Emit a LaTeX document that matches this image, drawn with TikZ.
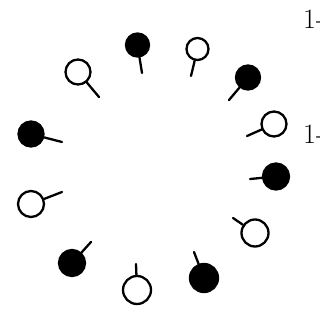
\documentclass[tikz,border=0pt]{standalone}
\usetikzlibrary{positioning}

\begin{document}
\begin{tikzpicture}[
	x=1pt, y=-1pt,
	head/.style={circle, draw, line width=2.3pt, inner sep=0pt, minimum size=25pt},
	full/.style={head, fill=black},
	hollow/.style={head, fill=white},
	stick/.style={line width=2.3pt, line cap=round},
	tag/.style={font=\fontsize{28}{30}\selectfont, anchor=base west, inner sep=0pt}
]
\useasboundingbox (0,0) rectangle (320,325);
\clip (0,0) rectangle (320,325);

\node[full, minimum size=23pt] (h1) at (137.5,45) {};
\node[hollow, minimum size=22pt] (h2) at (197.5,49) {};
\node[full, minimum size=24pt] (h3) at (248,77.5) {};
\node[hollow, minimum size=25pt] (h4) at (274,124) {};
\node[full, minimum size=26pt] (h5) at (276,176.5) {};
\node[hollow, minimum size=27pt] (h6) at (255,233) {};
\node[full, minimum size=28pt] (h7) at (204,278) {};
\node[hollow, minimum size=28pt] (h8) at (137,290) {};
\node[full, minimum size=26pt] (h9) at (72,263) {};
\node[hollow, minimum size=26pt] (h10) at (31,204) {};
\node[full, minimum size=25pt] (h11) at (31,134) {};
\node[hollow, minimum size=25pt] (h12) at (78,72) {};

\coordinate (s1) at (142,73);
\coordinate (s2) at (191,76);
\coordinate (s3) at (229,100);
\coordinate (s4) at (247,136);
\coordinate (s5) at (250,179);
\coordinate (s6) at (233,218);
\coordinate (s7) at (194,252);
\coordinate (s8) at (136,264);
\coordinate (s9) at (91,242);
\coordinate (s10) at (62,192);
\coordinate (s11) at (62,142);
\coordinate (s12) at (99,97);

\draw[stick] (h1) -- (s1);
\draw[stick] (h2) -- (s2);
\draw[stick] (h3) -- (s3);
\draw[stick] (h4) -- (s4);
\draw[stick] (h5) -- (s5);
\draw[stick] (h6) -- (s6);
\draw[stick] (h7) -- (s7);
\draw[stick] (h8) -- (s8);
\draw[stick] (h9) -- (s9);
\draw[stick] (h10) -- (s10);
\draw[stick] (h11) -- (s11);
\draw[stick] (h12) -- (s12);

\node[tag] (top) at (303,28) {1-};
\node[tag] (mid) at (303,143) {1-};
\end{tikzpicture}
\end{document}
